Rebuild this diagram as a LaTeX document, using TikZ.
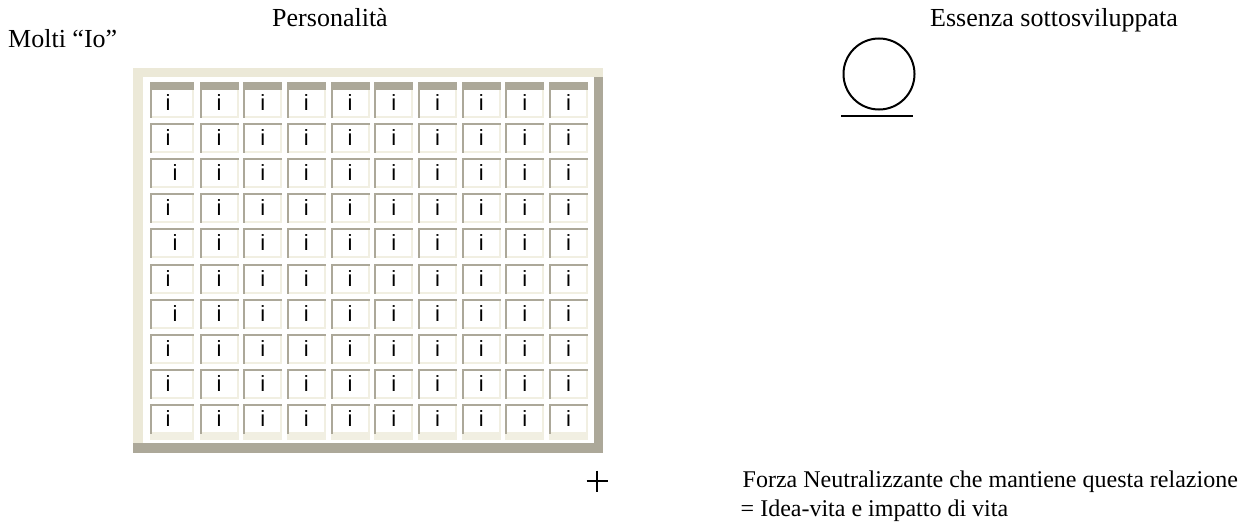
\documentclass[tikz,border=0pt]{standalone}
\usepackage{fontspec}
\setmainfont{Liberation Serif}
\newfontfamily\cellfont{Liberation Sans}
\usepackage{tikz}
\usetikzlibrary{positioning}
\usepackage{xcolor}
\definecolor{frameLight}{HTML}{ECE9D8}
\definecolor{frameDark}{HTML}{ACA899}
\definecolor{cellLight}{HTML}{F1EFE2}

\begin{document}
\begin{tikzpicture}[x=1pt, y=-1pt,
    headText/.style={font=\fontsize{26}{31}\selectfont, inner sep=0pt},
    noteText/.style={font=\fontsize{24}{29}\selectfont, inner sep=0pt},
    cellText/.style={font=\cellfont\fontsize{22}{26}\selectfont, inner sep=0pt, anchor=base},
    strokeBlack/.style={draw=black, line cap=butt}
]
    \useasboundingbox (0,0) rectangle (1241,527);

    % titles
    \node[headText, anchor=base] (persTitle) at (330,27) {Personalità};
    \node[headText, anchor=base west] (manyI) at (8,48) {Molti “Io”};
    \node[headText, anchor=base west] (essTitle) at (930,27) {Essenza sottosviluppata};

    % outer frame
    \fill[frameLight] (133,68) rectangle (603,453);
    \fill[frameDark] (594,77) rectangle (603,453);
    \fill[frameDark] (133,443) rectangle (603,453);
    \fill[white] (143,77) rectangle (594,443);

    % grid of cells
    \foreach \col in {1,...,10} {
        \pgfmathsetmacro\xa{\col==1 ? 150 : 199.5+43.7*(\col-2)}
        \pgfmathsetmacro\xb{\col==1 ? 194 : \xa+39}
        \fill[frameDark] (\xa,82) rectangle (\xb,90);
        \fill[cellLight] (\xa,432) rectangle (\xb,440);
        \foreach \row in {0,...,9} {
            \pgfmathsetmacro\ya{88+35.1*\row}
            \pgfmathsetmacro\xc{\col==1 ? (168+(mod(\row,2)==0 && \row>0 && \row<7 ? 7 : 0)) : (\xa+\xb)/2}
            \fill[frameDark] (\xa,\ya) rectangle (\xb,\ya+30);
            \fill[cellLight] (\xa+2,\ya+2) rectangle (\xb,\ya+30);
            \fill[white] (\xa+2,\ya+2) rectangle (\xb-2,\ya+28);
            \node[cellText] (cell-\col-\row) at (\xc,\ya+22.5) {i};
        }
    }

    % essence symbol
    \node[circle, draw, line width=2pt, minimum size=71pt, inner sep=0pt] (essCircle) at (879,74) {};
    \coordinate (baseLeft) at (841,116);
    \coordinate (baseRight) at (913,116);
    \draw[strokeBlack, line width=2.5pt] (baseLeft) -- (baseRight);

    % neutralizing force
    \coordinate (plusMid) at (597,481);
    \draw[strokeBlack, line width=1.3pt] ([xshift=-10.5pt]plusMid) -- ([xshift=10.5pt]plusMid);
    \draw[strokeBlack, line width=1.3pt] ([yshift=10.5pt]plusMid) -- ([yshift=-10.5pt]plusMid);
    \node[noteText, anchor=base east] (forceLine) at (1238,487) {Forza Neutralizzante che mantiene questa relazione};
    \node[noteText, anchor=base west] (ideaLine) at ([xshift=-2pt, yshift=-29pt]forceLine.base west) {= Idea-vita e impatto di vita};
\end{tikzpicture}
\end{document}
